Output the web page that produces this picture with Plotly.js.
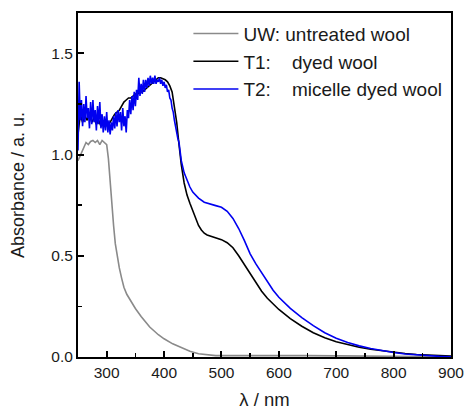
<!DOCTYPE html>
<html>
<head>
<meta charset="utf-8">
<script src="https://cdn.plot.ly/plotly-3.0.1.min.js"></script>
<style>html,body{margin:0;padding:0;background:#fff;}#chart{width:465px;height:410px;}</style>
</head>
<body>
<div id="chart"></div>
<script>
// UW: untreated wool
const uwX = [250,253,256,260,264,268,272,276,280,284,288,292,296,300,303,306,309,312,315,318,322,326,330,335,340,350,360,375,390,400,415,430,445,460,475,490,520,550,580,600,650,700,750,800,850,900];
const uwY = [0.97,0.99,1.01,1.04,1.06,1.05,1.065,1.07,1.06,1.07,1.05,1.07,1.06,1.05,0.98,0.86,0.75,0.65,0.56,0.50,0.44,0.39,0.345,0.31,0.285,0.24,0.20,0.148,0.11,0.09,0.065,0.045,0.028,0.016,0.010,0.007,0.007,0.008,0.006,0.007,0.007,0.005,0.004,0.003,0.002,0.001];

// T1: dyed wool
const t1X = [250,254,258,262,266,270,274,278,282,286,290,294,298,302,306,310,314,318,322,326,330,334,338,342,346,350,354,358,362,366,370,374,378,382,386,390,394,398,402,406,410,414,418,422,426,430,435,440,445,450,455,460,465,470,475,480,490,500,510,520,530,540,550,560,570,580,590,600,620,640,660,680,700,720,740,760,780,800,820,840,860,880,900];
const t1Y = [1.10,1.20,1.16,1.19,1.17,1.20,1.16,1.18,1.15,1.17,1.14,1.16,1.14,1.15,1.16,1.18,1.20,1.21,1.22,1.24,1.26,1.27,1.28,1.28,1.29,1.30,1.30,1.31,1.31,1.32,1.33,1.34,1.35,1.36,1.37,1.38,1.38,1.375,1.37,1.36,1.34,1.31,1.24,1.16,1.05,0.95,0.86,0.80,0.76,0.72,0.68,0.65,0.628,0.612,0.603,0.598,0.59,0.58,0.565,0.54,0.50,0.455,0.41,0.365,0.325,0.29,0.26,0.235,0.19,0.152,0.12,0.095,0.075,0.06,0.048,0.038,0.03,0.023,0.017,0.012,0.009,0.007,0.005];

// T2: micelle dyed wool
const t2X = [250,252,254,256,258,260,262,264,266,268,270,272,274,276,278,280,282,284,286,288,290,292,294,296,298,300,302,304,306,308,310,312,314,316,318,320,322,324,326,328,330,332,334,336,338,340,342,344,346,348,350,352,354,356,358,360,362,364,366,368,370,372,374,376,378,380,382,384,386,388,390,392,394,396,398,400,402,404,406,408,410,412,414,416,418,420,422,424,426,428,430,435,440,445,450,460,470,480,490,500,510,520,530,540,550,560,570,580,590,600,620,640,660,680,700,720,740,760,780,800,820,840,860,880,900];
const t2Y = [1.02,1.36,1.17,1.27,1.14,1.25,1.16,1.29,1.18,1.23,1.13,1.26,1.15,1.27,1.16,1.22,1.12,1.24,1.15,1.26,1.13,1.20,1.11,1.19,1.12,1.21,1.11,1.17,1.10,1.16,1.12,1.19,1.13,1.21,1.14,1.22,1.16,1.21,1.12,1.23,1.14,1.19,1.11,1.22,1.18,1.27,1.20,1.29,1.22,1.31,1.24,1.32,1.27,1.38,1.29,1.35,1.30,1.37,1.31,1.37,1.33,1.38,1.34,1.39,1.35,1.38,1.35,1.39,1.35,1.37,1.36,1.38,1.35,1.37,1.34,1.36,1.33,1.345,1.31,1.32,1.28,1.27,1.23,1.21,1.17,1.14,1.10,1.08,1.06,1.01,0.97,0.91,0.87,0.84,0.815,0.785,0.765,0.755,0.748,0.74,0.72,0.685,0.635,0.575,0.51,0.46,0.415,0.37,0.33,0.295,0.24,0.195,0.155,0.12,0.093,0.072,0.055,0.042,0.031,0.022,0.015,0.010,0.006,0.003,0.001];

const names = ['UW:\u00a0untreated wool', 'T1:\u00a0\u00a0\u00a0\u00a0dyed wool', 'T2:\u00a0\u00a0\u00a0\u00a0micelle dyed wool'];
const xTickVals = [300,400,500,600,700,800,900];
const yTickVals = [0.0,0.5,1.0,1.5];
const yTickText = ['0.0','0.5','1.0','1.5'];

const traces = [
  {x: uwX, y: uwY, name: names[0], mode: 'lines', line: {color: '#8a8a8a', width: 1.6}},
  {x: t1X, y: t1Y, name: names[1], mode: 'lines', line: {color: '#000000', width: 1.6}},
  {x: t2X, y: t2Y, name: names[2], mode: 'lines', line: {color: '#0000f0', width: 1.6}}
];

const font = 'Liberation Sans, Arial, sans-serif';
const layout = {
  width: 465, height: 410,
  margin: {l: 78, r: 14, t: 13, b: 53},
  paper_bgcolor: '#ffffff', plot_bgcolor: '#ffffff',
  font: {family: font, color: '#1a1a1a'},
  showlegend: true,
  legend: {x: 0.296, y: 0.995, xanchor: 'left', yanchor: 'top', bgcolor: 'rgba(0,0,0,0)',
           font: {family: font, size: 19, color: '#1a1a1a'}, itemwidth: 45, tracegroupgap: 0},
  xaxis: {
    range: [250, 900], showgrid: false, zeroline: false,
    showline: true, linecolor: '#000', linewidth: 2, mirror: true,
    ticks: 'inside', ticklen: 6, tickwidth: 2, tickcolor: '#000',
    tickvals: xTickVals, tickfont: {family: font, size: 15.5, color: '#1a1a1a'},
    ticklabeloverflow: 'allow',
    minor: {dtick: 50, tick0: 250, ticks: 'inside', ticklen: 4, tickwidth: 1.5, tickcolor: '#000'},
    title: {text: 'λ / nm', font: {family: font, size: 18.5, color: '#1a1a1a'}, standoff: 14}
  },
  yaxis: {
    range: [0, 1.7], showgrid: false, zeroline: false,
    showline: true, linecolor: '#000', linewidth: 2, mirror: true,
    ticks: 'inside', ticklen: 6, tickwidth: 2, tickcolor: '#000',
    tickvals: yTickVals, ticktext: yTickText, tickfont: {family: font, size: 15.5, color: '#1a1a1a'},
    minor: {dtick: 0.25, tick0: 0, ticks: 'inside', ticklen: 4, tickwidth: 1.5, tickcolor: '#000'},
    title: {text: 'Absorbance / a. u.', font: {family: font, size: 18, color: '#1a1a1a'}, standoff: 22}
  }
};

Plotly.newPlot('chart', traces, layout, {displayModeBar: false, staticPlot: true});
</script>
</body>
</html>
